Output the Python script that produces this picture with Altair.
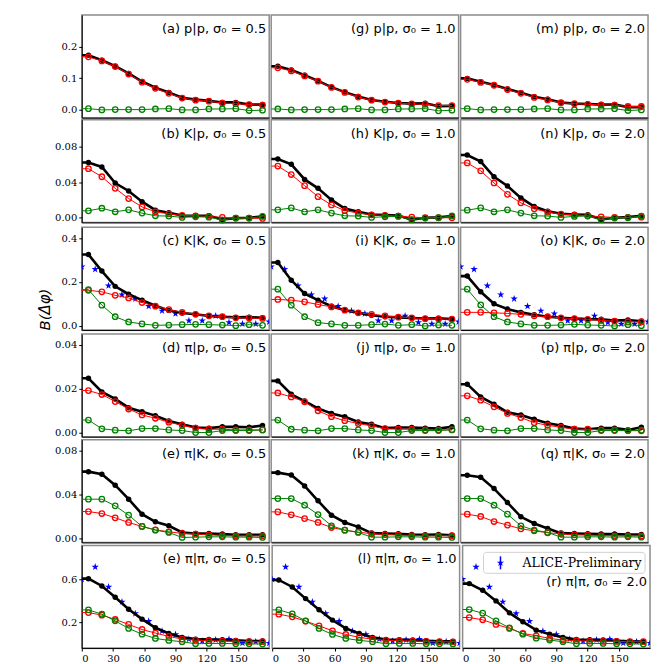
import altair as alt
import pandas as pd

# ---------------- data ----------------
PHI = [6.4, 19.3, 32.1, 45.0, 57.9, 70.7, 83.6, 96.4, 109.3, 122.1, 135.0, 147.9, 160.7, 173.6]
STAR_PHI = [0.0, 12.9, 25.7, 38.6, 51.4, 64.3, 77.1, 90.0, 102.9, 115.7, 128.6, 141.4, 154.3, 167.1, 180.0]

kk_star = [0.27, 0.258, 0.183, 0.142, 0.123, 0.089, 0.068, 0.055, 0.023, 0.023, 0.045, 0.015, 0.008, 0.008, 0.018]
pipi_star = [0.6, 0.714, 0.529, 0.391, 0.283, 0.212, 0.12, 0.089, 0.046, 0.028, 0.04, 0.046, 0.009, 0.022, 0.009]

# row 1: p|p
a_blk = [0.173, 0.157, 0.138, 0.115, 0.089, 0.069, 0.054, 0.037, 0.031, 0.027, 0.022, 0.022, 0.015, 0.015]
a_red = [0.168, 0.155, 0.137, 0.113, 0.087, 0.067, 0.051, 0.036, 0.029, 0.026, 0.020, 0.018, 0.015, 0.013]
a_grn = [0.002, -0.002, -0.001, -0.001, -0.001, 0.001, 0.002, -0.002, -0.002, 0.001, 0.001, 0.002, -0.004, -0.003]
g_blk = [0.138, 0.126, 0.109, 0.091, 0.071, 0.055, 0.041, 0.030, 0.024, 0.020, 0.018, 0.019, 0.010, 0.011]
g_red = [0.133, 0.123, 0.107, 0.090, 0.070, 0.054, 0.039, 0.029, 0.023, 0.020, 0.017, 0.016, 0.012, 0.012]
g_grn = [0.001, -0.002, -0.001, -0.001, -0.001, 0.001, 0.002, -0.002, -0.002, 0.001, 0.001, 0.002, -0.005, -0.003]
m_blk = [0.099, 0.088, 0.078, 0.065, 0.053, 0.040, 0.032, 0.022, 0.018, 0.017, 0.015, 0.015, 0.007, 0.007]
m_red = [0.096, 0.086, 0.077, 0.063, 0.051, 0.038, 0.030, 0.021, 0.018, 0.016, 0.014, 0.013, 0.009, 0.009]
m_grn = [0.002, -0.002, -0.001, -0.001, -0.001, 0.001, 0.002, -0.002, -0.002, 0.001, 0.001, 0.002, -0.004, -0.002]

# row 2: K|p
b_blk = [0.062, 0.057, 0.039, 0.030, 0.018, 0.0085, 0.0056, 0.0026, 0.0022, 0.0022, -0.002, -0.0004, 0.0, 0.0015]
b_red = [0.055, 0.046, 0.033, 0.0215, 0.0122, 0.0067, 0.0044, 0.0026, 0.0022, 0.0015, 0.0004, -0.0004, -0.0004, -0.0007]
b_grn = [0.0078, 0.0107, 0.0067, 0.0089, 0.0052, 0.0022, 0.0019, 0.0004, 0.0011, 0.0007, -0.0026, -0.0004, -0.0004, 0.0015]
h_blk = [0.066, 0.060, 0.043, 0.033, 0.020, 0.0104, 0.0067, 0.0037, 0.003, 0.0026, -0.0022, 0.0, 0.0004, 0.0019]
h_red = [0.058, 0.0485, 0.036, 0.0237, 0.0144, 0.0081, 0.0052, 0.0033, 0.0026, 0.0019, 0.0007, 0.0, 0.0001, 0.0]
h_grn = [0.0089, 0.011, 0.0067, 0.0089, 0.0052, 0.0022, 0.0019, 0.0004, 0.0011, 0.0015, -0.0022, -0.0004, 0.0, 0.0022]
n_blk = [0.0704, 0.063, 0.046, 0.0356, 0.0222, 0.0126, 0.0074, 0.0044, 0.0037, 0.0033, -0.0019, 0.0, 0.0007, 0.0022]
n_red = [0.0615, 0.0526, 0.039, 0.0263, 0.0167, 0.010, 0.0063, 0.0041, 0.0033, 0.0022, 0.0011, 0.0004, 0.0004, 0.0007]
n_grn = [0.0085, 0.011, 0.0067, 0.0089, 0.0052, 0.0022, 0.0019, 0.0004, 0.0015, 0.0019, -0.0022, -0.0004, 0.0, 0.0019]

# row 3: K|K
c_blk = [0.326, 0.25, 0.18, 0.144, 0.117, 0.091, 0.070, 0.058, 0.052, 0.044, 0.041, 0.038, 0.039, 0.036]
c_red = [0.162, 0.155, 0.139, 0.127, 0.106, 0.089, 0.074, 0.061, 0.052, 0.045, 0.041, 0.036, 0.035, 0.033]
c_grn = [0.165, 0.094, 0.041, 0.017, 0.008, 0.0015, 0.003, 0.0045, 0.006, 0.0045, 0.003, 0.0, 0.0045, 0.0015]
i_blk = [0.289, 0.208, 0.147, 0.117, 0.089, 0.071, 0.059, 0.048, 0.041, 0.038, 0.035, 0.033, 0.034, 0.030]
i_red = [0.12, 0.117, 0.109, 0.097, 0.086, 0.071, 0.059, 0.052, 0.045, 0.039, 0.036, 0.032, 0.031, 0.030]
i_grn = [0.167, 0.094, 0.041, 0.014, 0.008, 0.0015, 0.0015, 0.0045, 0.0075, 0.0015, 0.0045, -0.0015, 0.003, 0.0015]
o_blk = [0.227, 0.155, 0.10, 0.076, 0.061, 0.050, 0.041, 0.036, 0.033, 0.030, 0.029, 0.023, 0.026, 0.020]
o_red = [0.061, 0.061, 0.059, 0.056, 0.052, 0.045, 0.041, 0.036, 0.032, 0.029, 0.024, 0.021, 0.018, 0.018]
o_grn = [0.167, 0.095, 0.041, 0.017, 0.008, 0.0015, 0.0015, 0.003, 0.006, 0.003, 0.0015, -0.0015, 0.0045, 0.0]

# row 4: pi|p
d_blk = [0.0247, 0.0185, 0.0153, 0.0113, 0.0095, 0.0077, 0.0053, 0.0038, 0.0023, 0.0020, 0.0026, 0.0026, 0.0024, 0.0032]
d_red = [0.0191, 0.0173, 0.0141, 0.0107, 0.008, 0.0065, 0.0047, 0.0033, 0.002, 0.0015, 0.0015, 0.0012, 0.0012, 0.0012]
d_grn = [0.0057, 0.0017, 0.0011, 0.0008, 0.0018, 0.0018, 0.0012, 0.0009, 0.0, 0.0, 0.0009, 0.0009, 0.0009, 0.0012]
j_blk = [0.0235, 0.0174, 0.0143, 0.011, 0.0087, 0.0072, 0.0048, 0.0038, 0.002, 0.0023, 0.0023, 0.002, 0.0018, 0.0026]
j_red = [0.018, 0.0162, 0.014, 0.0099, 0.0072, 0.0054, 0.0041, 0.003, 0.0018, 0.0015, 0.0015, 0.0012, 0.0012, 0.0012]
j_grn = [0.0057, 0.0015, 0.0011, 0.0008, 0.0018, 0.0018, 0.0012, 0.0009, 0.0, 0.0, 0.0009, 0.0009, 0.0009, 0.0013]
p_blk = [0.022, 0.0162, 0.0129, 0.0092, 0.008, 0.006, 0.0042, 0.0032, 0.0018, 0.0015, 0.002, 0.002, 0.0012, 0.0024]
p_red = [0.0167, 0.0147, 0.0117, 0.0087, 0.0068, 0.0045, 0.0033, 0.0024, 0.0015, 0.0015, 0.0012, 0.0012, 0.0009, 0.0008]
p_grn = [0.0057, 0.0017, 0.0011, 0.0008, 0.0018, 0.0018, 0.0012, 0.0009, 0.0, 0.0, 0.0009, 0.0009, 0.0009, 0.0011]

# row 5: pi|K
e_blk = [0.0611, 0.0587, 0.0487, 0.0359, 0.0222, 0.0152, 0.0116, 0.0055, 0.0046, 0.0046, 0.004, 0.0033, 0.0033, 0.0033]
e_red = [0.0246, 0.0228, 0.0189, 0.0146, 0.011, 0.0079, 0.0061, 0.0046, 0.004, 0.0033, 0.0027, 0.0024, 0.0024, 0.0024]
e_grn = [0.0359, 0.0359, 0.0298, 0.0213, 0.011, 0.0076, 0.0055, 0.0009, 0.0012, 0.0015, 0.0015, 0.0012, 0.0012, 0.0009]
k_blk = [0.0602, 0.0581, 0.048, 0.0344, 0.0213, 0.0146, 0.0106, 0.0049, 0.0046, 0.0043, 0.0036, 0.0033, 0.0036, 0.003]
k_red = [0.0243, 0.0216, 0.0182, 0.0146, 0.010, 0.0076, 0.0058, 0.0043, 0.0036, 0.003, 0.0027, 0.0024, 0.0024, 0.0025]
k_grn = [0.0365, 0.0365, 0.0304, 0.0219, 0.0116, 0.0076, 0.0055, 0.0012, 0.0012, 0.0015, 0.0015, 0.0012, 0.0012, 0.0009]
q_blk = [0.0578, 0.056, 0.0456, 0.0328, 0.0198, 0.0137, 0.0091, 0.0049, 0.0046, 0.0043, 0.004, 0.004, 0.0036, 0.0036]
q_red = [0.0222, 0.0201, 0.0155, 0.0122, 0.0088, 0.007, 0.0052, 0.0043, 0.0033, 0.003, 0.0027, 0.0024, 0.0024, 0.0023]
q_grn = [0.0365, 0.0365, 0.0304, 0.0222, 0.0116, 0.0076, 0.0055, 0.0012, 0.0012, 0.0015, 0.0015, 0.0012, 0.0015, 0.0012]

# row 6: pi|pi
f_blk = [0.606, 0.538, 0.434, 0.323, 0.231, 0.151, 0.098, 0.062, 0.046, 0.043, 0.04, 0.034, 0.028, 0.028]
f_red = [0.292, 0.268, 0.228, 0.182, 0.135, 0.102, 0.071, 0.046, 0.037, 0.031, 0.028, 0.025, 0.022, 0.022]
f_grn = [0.317, 0.277, 0.215, 0.145, 0.092, 0.052, 0.034, 0.022, 0.003, 0.006, 0.006, 0.003, 0.003, 0.0]
l_blk = [0.594, 0.529, 0.421, 0.317, 0.222, 0.145, 0.098, 0.062, 0.043, 0.04, 0.037, 0.031, 0.025, 0.025]
l_red = [0.277, 0.252, 0.212, 0.169, 0.123, 0.089, 0.062, 0.046, 0.034, 0.031, 0.028, 0.025, 0.022, 0.021]
l_grn = [0.317, 0.28, 0.215, 0.145, 0.089, 0.052, 0.034, 0.022, 0.003, 0.006, 0.006, 0.003, 0.003, 0.001]
r_blk = [0.56, 0.498, 0.40, 0.289, 0.206, 0.129, 0.092, 0.062, 0.043, 0.04, 0.037, 0.031, 0.025, 0.022]
r_red = [0.246, 0.225, 0.182, 0.145, 0.098, 0.077, 0.052, 0.037, 0.031, 0.028, 0.025, 0.025, 0.022, 0.022]
r_grn = [0.32, 0.286, 0.215, 0.151, 0.092, 0.055, 0.037, 0.022, 0.003, 0.006, 0.006, 0.003, 0.003, 0.0]

PAIRS = ["p|p", "K|p", "K|K", "π|p", "π|K", "π|π"]
SIGMAS = ["0.5", "1.0", "2.0"]
LETTERS = [["a", "g", "m"], ["b", "h", "n"], ["c", "i", "o"],
           ["d", "j", "p"], ["e", "k", "q"], ["e", "l", "r"]]
SERIES = [[(a_blk, a_red, a_grn), (g_blk, g_red, g_grn), (m_blk, m_red, m_grn)],
          [(b_blk, b_red, b_grn), (h_blk, h_red, h_grn), (n_blk, n_red, n_grn)],
          [(c_blk, c_red, c_grn), (i_blk, i_red, i_grn), (o_blk, o_red, o_grn)],
          [(d_blk, d_red, d_grn), (j_blk, j_red, j_grn), (p_blk, p_red, p_grn)],
          [(e_blk, e_red, e_grn), (k_blk, k_red, k_grn), (q_blk, q_red, q_grn)],
          [(f_blk, f_red, f_grn), (l_blk, l_red, l_grn), (r_blk, r_red, r_grn)]]
STARS = [None, None, kk_star, None, None, pipi_star]
LEGEND_LABEL = "ALICE-Preliminary"

# ---------------- layout / style ----------------
W, H = 188, 103
XDOM = [0, 180]
LABEL_FONT = "DejaVu Serif"
ROWCFG = [
    dict(domain=[-0.027, 0.302], vals=[0, 0.1, 0.2], fmt=".1f"),
    dict(domain=[-0.0052, 0.110], vals=[0, 0.04, 0.08], fmt=".2f"),
    dict(domain=[-0.02, 0.45], vals=[0, 0.2, 0.4], fmt=".1f"),
    dict(domain=[-0.0019, 0.0448], vals=[0, 0.02, 0.04], fmt=".2f"),
    dict(domain=[-0.0036, 0.0903], vals=[0, 0.04, 0.08], fmt=".2f"),
    dict(domain=[-0.037, 0.914], vals=[0.2, 0.6], fmt=".1f"),
]
RED = "#ff0000"
GREEN = "#008000"
BLUE = "#0000ff"
# five-pointed star as a custom symbol path (unit box -1..1)
STAR_PATH = ("M0,-1 L0.2245,-0.309 L0.951,-0.309 L0.363,0.118 L0.588,0.809 "
             "L0,0.382 L-0.588,0.809 L-0.363,0.118 L-0.951,-0.309 L-0.2245,-0.309 Z")


def px_to_data(px, py, ydom):
    """panel pixel offset (from top-left) -> data coordinates (annotations only)"""
    xv = XDOM[0] + px / W * (XDOM[1] - XDOM[0])
    yv = ydom[1] - py / H * (ydom[1] - ydom[0])
    return xv, yv


def panel(row, col):
    blk, red, grn = SERIES[row][col]
    cfg = ROWCFG[row]
    ydom = cfg["domain"]
    bottom = row == 5
    left = col == 0

    xs = alt.Scale(domain=XDOM, nice=False, zero=False)
    ys = alt.Scale(domain=ydom, nice=False, zero=False)

    if bottom:
        xaxis = alt.Axis(values=[0, 30, 60, 90, 120, 150], grid=False, tickSize=3,
                         labelFont=LABEL_FONT, labelFontSize=10, labelColor="black",
                         domainColor="black", tickColor="black", labelPadding=2,
                         titleFont="DejaVu Sans", titleFontSize=17, titleFontWeight="normal",
                         titleColor="black", titlePadding=1)
        xtitle = "Δφ"
    else:
        xaxis = alt.Axis(labels=False, ticks=False, grid=False, domainColor="black")
        xtitle = None

    if left:
        yaxis = alt.Axis(values=cfg["vals"], format=cfg["fmt"], grid=False, tickSize=3,
                         labelFont=LABEL_FONT, labelFontSize=10, labelColor="black",
                         domainColor="black", tickColor="black", labelPadding=2,
                         titleX=-29, titleY=(H - 21 if row == 2 else H / 2), titleAngle=270,
                         titleBaseline="bottom", titleAlign="center",
                         titleFont="DejaVu Sans", titleFontSize=15, titleColor="black",
                         titleFontStyle="italic", titleFontWeight="normal",
                         titleOpacity=(1 if row == 2 else 0))
        Y = alt.Y("val:Q", scale=ys, axis=yaxis, title="B(Δφ)")
    else:
        Y = alt.Y("val:Q", scale=ys, axis=None)

    X = alt.X("phi:Q", scale=xs, axis=xaxis, title=xtitle)

    layers = []
    if STARS[row] is not None:
        df_st = pd.DataFrame({"phi": STAR_PHI, "val": STARS[row]})
        layers.append(alt.Chart(df_st).mark_point(shape=STAR_PATH, filled=True, size=60,
                                                  color=BLUE, opacity=1,
                                                  clip=True).encode(x=X, y=Y))

    for arr, color, lw in ((blk, "black", 2.6), (red, RED, 1.0), (grn, GREEN, 1.0)):
        df_p = pd.DataFrame({"phi": PHI, "val": arr})
        df_l = pd.DataFrame({"phi": [0.0] + PHI, "val": [arr[0]] + arr})
        layers.append(alt.Chart(df_l).mark_line(color=color, strokeWidth=lw,
                                                clip=True).encode(x=X, y=Y))
        if color == "black":
            layers.append(alt.Chart(df_p).mark_circle(color="black", size=30,
                                                      opacity=1).encode(x=X, y=Y))
        else:
            layers.append(alt.Chart(df_p).mark_point(color=color, size=30, strokeWidth=1.3,
                                                     opacity=1).encode(x=X, y=Y))

    letter = LETTERS[row][col]
    label = f"({letter}) {PAIRS[row]}, σ₀ = {SIGMAS[col]}"
    is_legend_panel = (row == 5 and col == 2)
    lx, ly = px_to_data(W - 3, 37 if is_legend_panel else 14, ydom)
    df_lab = pd.DataFrame({"phi": [lx], "val": [ly], "t": [label]})
    layers.append(alt.Chart(df_lab).mark_text(
        align="right", baseline="middle", font="DejaVu Sans", fontSize=13, color="black"
    ).encode(x=X, y=Y, text="t:N"))

    if is_legend_panel:
        bx1, by1 = px_to_data(21, 7, ydom)
        bx2, by2 = px_to_data(183, 28, ydom)
        mx, my = px_to_data(38, 17.5, ydom)
        _, ey1 = px_to_data(38, 11, ydom)
        _, ey2 = px_to_data(38, 24, ydom)
        tx, _ = px_to_data(60, 17.5, ydom)
        df_box = pd.DataFrame({"phi": [bx1], "phi2": [bx2], "val": [by1], "val2": [by2]})
        layers.append(alt.Chart(df_box).mark_rect(fill="white", stroke="#cccccc",
                                                  strokeWidth=1, cornerRadius=3,
                                                  opacity=0.9).encode(
            x=X, x2="phi2:Q", y=Y, y2="val2:Q"))
        df_err = pd.DataFrame({"phi": [mx], "val": [ey1], "val2": [ey2]})
        layers.append(alt.Chart(df_err).mark_rule(color=BLUE, strokeWidth=1.5).encode(
            x=X, y=Y, y2="val2:Q"))
        df_mk = pd.DataFrame({"phi": [mx], "val": [my]})
        layers.append(alt.Chart(df_mk).mark_point(shape=STAR_PATH, filled=True, size=60,
                                                  color=BLUE, opacity=1).encode(x=X, y=Y))
        df_lt = pd.DataFrame({"phi": [tx], "val": [my], "t": [LEGEND_LABEL]})
        layers.append(alt.Chart(df_lt).mark_text(align="left", baseline="middle",
                                                 font=LABEL_FONT, fontSize=12.5,
                                                 color="black").encode(x=X, y=Y, text="t:N"))

    return alt.layer(*layers).properties(width=W, height=H)


rows = [alt.hconcat(*[panel(r, c) for c in range(3)], spacing=0) for r in range(6)]

chart = alt.vconcat(*rows, spacing=0).properties(
    padding={"left": 29, "top": 5, "right": 5, "bottom": 5}
).configure_view(stroke="#8c8c8c", strokeWidth=1.5)

chart.save("out.html", embed_options={"renderer": "svg", "actions": False})
